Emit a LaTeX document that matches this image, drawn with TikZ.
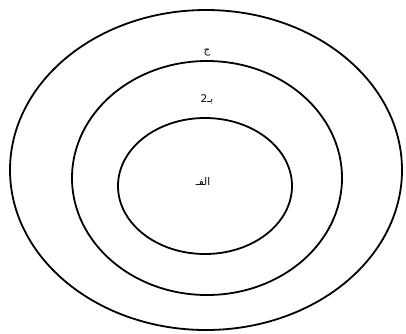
\documentclass[tikz,border=0pt]{standalone}
\usepackage{fontspec}
\newfontfamily\arabicfont[Script=Arabic]{DejaVu Sans}
\TeXXeTstate=1
\begin{document}
\begin{tikzpicture}[x=1pt,y=-1pt,
  ring/.style={draw=black,line width=1.8pt},
  lbl/.style={font=\arabicfont\fontsize{10.5}{12}\selectfont,inner sep=0pt}]
\useasboundingbox (0,0) rectangle (406,333);
\fill[white] (0,0) rectangle (406,333);
\draw[ring] (206,170) ellipse [x radius=196,y radius=160];
\draw[ring] (207,178) ellipse [x radius=135,y radius=117];
\draw[ring] (205,186) ellipse [x radius=87,y radius=68];
\node[lbl] (c) at (207,53) {\beginR ج\endR};
\node[lbl] (b) at (207,99) {\beginR بـ2\endR};
\node[lbl] (a) at (203,182) {\beginR الفـ\endR};
\end{tikzpicture}
\end{document}
